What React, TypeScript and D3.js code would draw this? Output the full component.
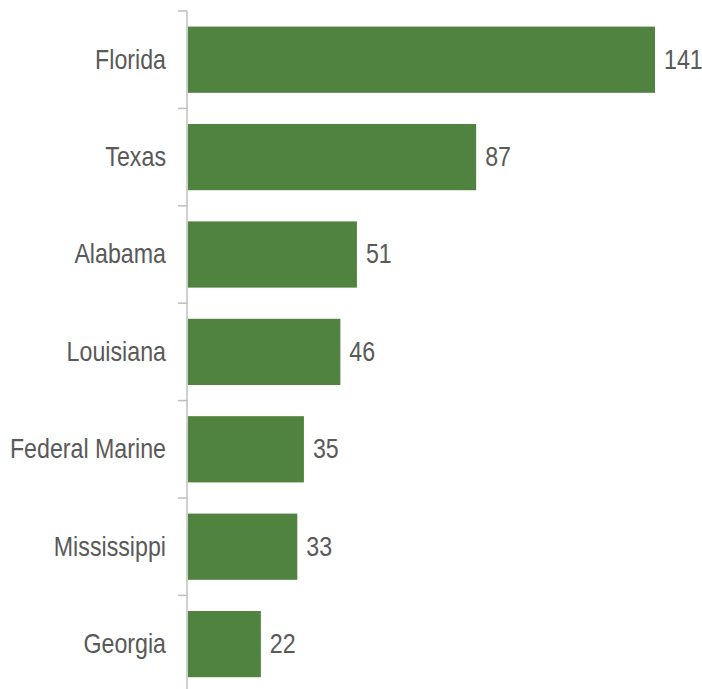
import React from "react";
import * as d3 from "d3";

const categories = ["Florida", "Texas", "Alabama", "Louisiana", "Federal Marine", "Mississippi", "Georgia"];
const values = [141, 87, 51, 46, 35, 33, 22];

const W = 702;
const H = 689;

export default function App() {
  const y = d3.scaleBand<string>().domain(categories).range([11, 11 + 97.4 * 7]).paddingInner(0.32).paddingOuter(0.16);
  const x = d3.scaleLinear().domain([0, 141]).range([188, 655]);
  const font = "'Liberation Sans', Arial, sans-serif";
  const step = y.step();
  const r0 = y.range()[0];
  const sx = 0.86;
  return (
    <svg width={W} height={H} style={{ position: "absolute", left: 0, top: 0 }}>
      {categories.map((c, i) => {
        const cy = (y(c) as number) + y.bandwidth() / 2 + 8.8;
        return (
          <g key={c}>
            <rect x={x(0)} y={y(c)} width={x(values[i]) - x(0)} height={y.bandwidth()} fill="#50833F" />
            <g transform={`translate(${x(values[i]) + 9},${cy}) scale(${sx},1)`}>
              <text x={0} y={0} fontSize={27} fontFamily={font} fill="#595959">
                {values[i]}
              </text>
            </g>
            <g transform={`translate(166,${cy}) scale(${sx},1)`}>
              <text x={0} y={0} textAnchor="end" fontSize={27} fontFamily={font} fill="#595959">
                {c}
              </text>
            </g>
          </g>
        );
      })}
      {d3.range(categories.length + 1).map((i) => (
        <line key={i} x1={178} x2={187} y1={r0 + i * step} y2={r0 + i * step} stroke="#BFBFBF" strokeWidth={1.5} />
      ))}
      <line x1={187} x2={187} y1={r0} y2={r0 + step * categories.length} stroke="#BFBFBF" strokeWidth={1.5} />
    </svg>
  );
}
